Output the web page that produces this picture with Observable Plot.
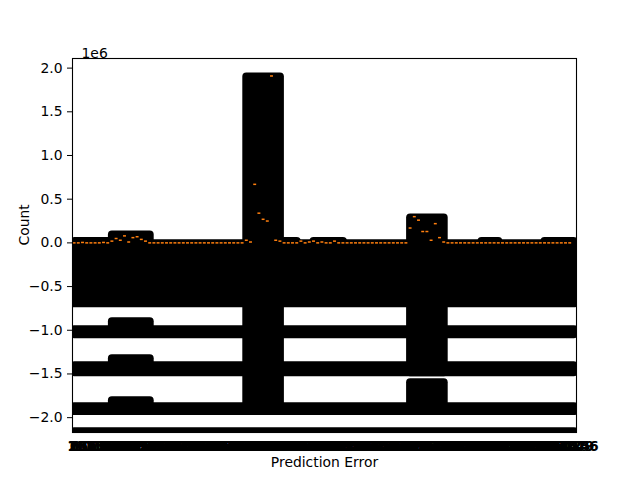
<!DOCTYPE html>
<html><head><meta charset="utf-8">
<script src="https://cdn.jsdelivr.net/npm/d3@7"></script>
<script src="https://cdn.jsdelivr.net/npm/@observablehq/plot@0.6"></script>
<style>body{margin:0;background:#fff}</style>
</head><body><div id="chart"></div>
<script>
// Category (prediction error) tick labels
const errorLabels = [0, 15, 236, 1847,
  10137,10892,11564,12348,13071,13926,14583,15209,16047,16718,
  17495,18263,18954,19682,20417,21139,21876,22651,23308,24079,
  24813,25546,26291,27034,27768,28495,29217,29963,30682,31459,
  32186,32874,33619,34357,35092,35841,36528,37264,38013,38749,
  39476,40231,40958,41687,42413,43159,43892,44627,45318,46074,
  46839,47526,48271,49035,49764,50481,51239,51967,52684,53412,
  54139,54876,55623,56358,57091,57834,58529,59267,60018,60745,
  61493,62238,62951,63687,64429,65173,65896,66614,67352,68089,
  68817,69543,70286,71024,71759,72481,73216,73958,74697,75432,
  76158,76893,77641,78329,79076,79814,80537,81269,82013,82748,
  83476,84219,84953,85687,86412,87139,87876,88625,89347,90081,
  90815,91542,92287,93014,93749,94486];

// Median count per category (units of 1e6)
const medians = [0,0,0.005,0,0,0,0,0.005,0,
  0.02,0.05,0.03,0.08,0.01,0.06,0.07,0.04,0.02,0,
  0,0,0,0,0,0,0,0,0,0,0,0,0,0,0,0,0,0,0,0,0,0,
  0.03,0.01,0.67,0.34,0.27,0.25,1.91,0.03,0.02,
  0,0,0,0,0.02,0,0.01,0.02,0,0.01,0,0,0.02,0,0,0,0,0,0,0,0,0,0,0,0,0,0,0,0,0,
  0.17,0.30,0.26,0.13,0.13,0.03,0.22,0.06,0.01,
  0,0,0,0,0,0,0,0,0,0,0,0,0,0,0,0,0,0,0,0,0,0,0,0,0,0,0,0,0,0];

// Dense outlier clusters: category range and count range (1e6)
const clusterFrom = [1,1,10,51,58,98,113,1,10,1,10,1,10,1,42,81,81];
const clusterTo   = [120,9,19,54,65,102,120,120,19,120,19,120,19,120,50,89,89];
const clusterLo   = [-0.697,-0.1,-0.1,-0.1,-0.1,-0.1,-0.1,-1.051,-1.0,-1.486,-1.45,-1.931,-1.9,-2.30,-1.931,-1.486,-1.931];
const clusterHi   = [-0.011,0.015,0.091,0.015,0.015,0.015,0.015,-0.994,-0.903,-1.406,-1.326,-1.874,-1.806,-2.16,1.897,0.286,-1.600];

const yTicks = [-2,-1.5,-1,-0.5,0,0.5,1,1.5,2];

const N = errorLabels.length;
const cats = errorLabels.map((label, k) => ({i: k + 1, label, median: medians[k]}));
const clusters = clusterFrom.map((f, k) => ({from: f, to: clusterTo[k], lo: clusterLo[k], hi: clusterHi[k]}));

const chart = Plot.plot({
  width: 640, height: 480,
  marginLeft: 72, marginRight: 64, marginTop: 58, marginBottom: 48,
  style: {fontFamily: "DejaVu Sans", fontSize: "13.9px", background: "white", color: "black"},
  x: {domain: [0.5, N + 0.5], axis: null},
  y: {domain: [-2.17, 2.11], axis: null},
  marks: [
    Plot.rect(clusters, {x1: "from", x2: "to", y1: "lo", y2: "hi", fill: "black", rx: 4,
      insetLeft: -4, insetRight: -4, insetTop: -4, insetBottom: -4, clip: true}),
    Plot.ruleY(cats, {y: "median", x1: d => d.i - 0.35, x2: d => d.i + 0.35,
      stroke: "#ff7f0e", strokeWidth: 1.5, clip: true}),
    Plot.frame({stroke: "black", strokeWidth: 1.1}),
    Plot.axisY({ticks: yTicks, tickFormat: d => d.toFixed(1).replace("-", "\u2212"),
      tickSize: 5, tickPadding: 5, label: null}),
    Plot.axisX({ticks: cats.map(d => d.i), tickFormat: i => String(errorLabels[i - 1]),
      tickSize: 0, tickPadding: 9, label: null, color: "black", fontWeight: "bold"}),
    Plot.text(["Prediction Error"], {text: d => d, frameAnchor: "bottom", dy: 25, lineAnchor: "top", fill: "black"}),
    Plot.text(["Count"], {text: d => d, frameAnchor: "left", dx: -48, rotate: -90, fill: "black"}),
    Plot.text(["1e6"], {text: d => d, frameAnchor: "top-left", dx: 9, dy: -1, textAnchor: "start", lineAnchor: "bottom", fill: "black"})
  ]
});
document.getElementById("chart").appendChild(chart);
</script>
</body></html>
